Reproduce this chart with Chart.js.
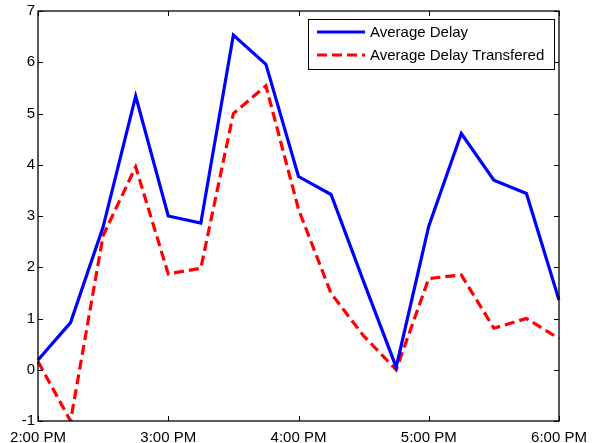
<!DOCTYPE html>
<html>
<head>
<meta charset="utf-8">
<script src="https://cdn.jsdelivr.net/npm/chart.js@4/dist/chart.umd.min.js"></script>
<style>
html,body{margin:0;padding:0;background:#fff;}
#wrap{width:593px;height:443px;position:relative;}
</style>
</head>
<body>
<div id="wrap"><canvas id="c" width="593" height="443"></canvas></div>
<script>
const timeLabels = ['2:00 PM','2:15 PM','2:30 PM','2:45 PM','3:00 PM','3:15 PM','3:30 PM','3:45 PM','4:00 PM','4:15 PM','4:30 PM','4:45 PM','5:00 PM','5:15 PM','5:30 PM','5:45 PM','6:00 PM'];
const averageDelay = [0.19,0.92,2.79,5.34,3.0,2.86,6.53,5.96,3.77,3.42,1.72,0.05,2.8,4.61,3.7,3.44,1.36];
const averageDelayTransfered = [0.16,-1.0,2.62,3.96,1.87,1.98,5.0,5.54,3.13,1.49,0.66,0.0,1.78,1.85,0.81,1.0,0.61];
const yTicks = [-1,0,1,2,3,4,5,6,7];
const seriesNames = ['Average Delay','Average Delay Transfered'];

const FONT = 'Liberation Sans, Arial, sans-serif';

const boxPlugin = {
  id: 'box',
  afterDatasetsDraw(chart) {
    const {ctx, chartArea: a, scales} = chart;
    ctx.save();
    ctx.strokeStyle = '#000';
    ctx.lineWidth = 1.3;
    ctx.strokeRect(a.left, a.top, a.right - a.left, a.bottom - a.top);
    ctx.lineWidth = 1;
    const tl = 5;
    ctx.beginPath();
    timeLabels.forEach((l, i) => {
      if (!/:00 /.test(l)) return;
      const x = Math.round(scales.x.getPixelForValue(i)) + 0.5;
      ctx.moveTo(x, a.bottom); ctx.lineTo(x, a.bottom - tl);
      ctx.moveTo(x, a.top); ctx.lineTo(x, a.top + tl);
    });
    yTicks.forEach(v => {
      const y = Math.round(scales.y.getPixelForValue(v)) + 0.5;
      ctx.moveTo(a.left, y); ctx.lineTo(a.left + tl, y);
      ctx.moveTo(a.right, y); ctx.lineTo(a.right - tl, y);
    });
    ctx.stroke();

    // legend
    const lx = 308, ly = 19, lw = 246, lh = 50;
    ctx.fillStyle = '#fff';
    ctx.fillRect(lx, ly, lw, lh);
    ctx.strokeStyle = '#000';
    ctx.lineWidth = 1;
    ctx.strokeRect(lx + 0.5, ly + 0.5, lw, lh);
    ctx.font = '15px ' + FONT;
    ctx.textBaseline = 'middle';
    ctx.textAlign = 'left';
    chart.data.datasets.forEach((ds, i) => {
      const y = ly + 13 + i * 23;
      ctx.strokeStyle = ds.borderColor;
      ctx.lineWidth = 3;
      ctx.setLineDash(ds.borderDash || []);
      ctx.beginPath();
      ctx.moveTo(317, y); ctx.lineTo(365, y);
      ctx.stroke();
      ctx.setLineDash([]);
      ctx.fillStyle = '#000';
      ctx.fillText(ds.label, 370, y + 1);
    });
    ctx.restore();
  }
};

new Chart(document.getElementById('c'), {
  type: 'line',
  data: {
    labels: timeLabels,
    datasets: [
      {label: seriesNames[0], data: averageDelay, borderColor: '#0000ff', borderWidth: 3.2, pointRadius: 0, tension: 0, fill: false},
      {label: seriesNames[1], data: averageDelayTransfered, borderColor: '#ff0000', borderWidth: 3.2, borderDash: [10,5], pointRadius: 0, tension: 0, fill: false}
    ]
  },
  options: {
    responsive: false,
    animation: false,
    layout: {padding: {top: 11, right: 34, left: 0, bottom: 0}},
    plugins: {legend: {display: false}, tooltip: {enabled: false}},
    scales: {
      x: {
        offset: false,
        grid: {display: false, drawTicks: false},
        border: {display: false},
        afterFit(s) { s.height = 22; s.paddingRight = 0; s.paddingLeft = 0; },
        ticks: {
          autoSkip: false, maxRotation: 0, padding: 8, color: '#000',
          font: {family: FONT, size: 15},
          callback(v, i) { const l = timeLabels[i]; return /:00 /.test(l) ? l : null; }
        }
      },
      y: {
        min: -1, max: 7,
        grid: {display: false, drawTicks: false},
        border: {display: false},
        afterFit(s) { s.width = 38; s.paddingTop = 0; s.paddingBottom = 0; },
        ticks: {stepSize: 1, padding: 3, color: '#000', font: {family: FONT, size: 15}}
      }
    }
  },
  plugins: [boxPlugin]
});
</script>
</body>
</html>
